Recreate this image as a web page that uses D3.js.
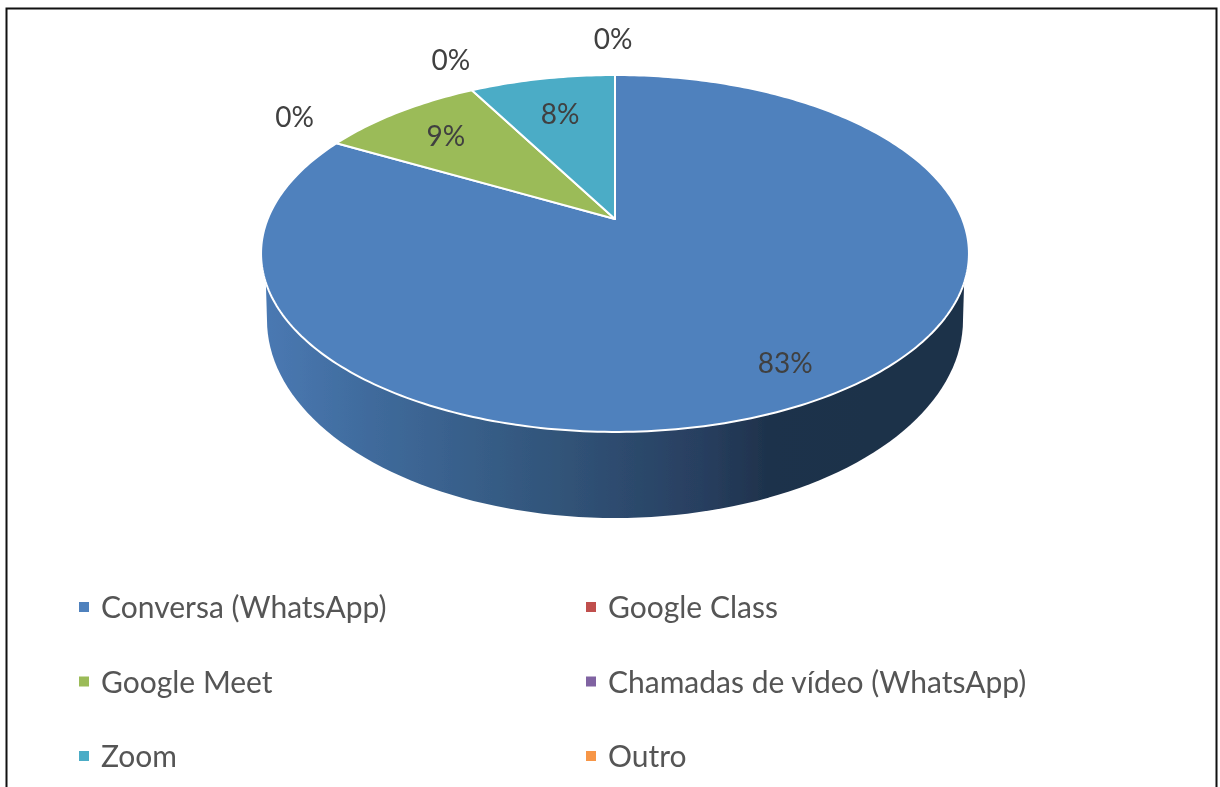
<!DOCTYPE html>
<html>
<head>
<meta charset="utf-8">
<script src="https://cdn.jsdelivr.net/npm/d3@7"></script>
<style>
  html, body { margin: 0; padding: 0; background: #fff; }
  svg { display: block; }
  text { font-family: Lato, "Open Sans", sans-serif; }
</style>
</head>
<body>
<div id="chart"></div>
<script>
// values
const categories = ['Conversa (WhatsApp)', 'Google Class', 'Google Meet', 'Chamadas de vídeo (WhatsApp)', 'Zoom', 'Outro'];
const shares = [83, 0, 9, 0, 8, 0];
const colors = ['#4f81bd', '#c0504d', '#9bbb59', '#8064a2', '#4bacc6', '#f79646'];

const width = 1220, height = 787;

// perspective of the pie: apex sits above the middle of the rim ellipse
const apex = {x: 615, y: 219};
const persp = {a: 347.3, b: 171.8, k: 0.193};
const floor = {x: 615, y: 320, rx: 348, ry: 198};
const wallTop = 283;

// where the labels go for each slice: radius on the disc, then nudge in px
const labelPlace = [[0.83, 0, 1], [1, -42, -27], [0.76, 0, 0], [1, -21, -31], [0.72, 0, 0], [1, -2, -37]];

const svg = d3.select('#chart').append('svg')
    .attr('width', width)
    .attr('height', height);

const defs = svg.append('defs');

// the reference is a soft scan, take the edge off everything but the frame
defs.append('filter')
    .attr('id', 'soft')
    .attr('filterUnits', 'userSpaceOnUse')
    .attr('x', 0).attr('y', 0).attr('width', width).attr('height', height)
    .append('feGaussianBlur')
    .attr('stdDeviation', 0.7);

const content = svg.append('g').attr('filter', 'url(#soft)');

// map a point of the flat disc (angle from 12 o'clock, radius 0-1) to the screen
function project(angle, r) {
    const u = r * Math.sin(angle), v = -r * Math.cos(angle);
    const d = 1 - persp.k * v;
    return [apex.x + persp.a * u / d, apex.y + persp.b * v / d];
}

const line = d3.line();
const pie = d3.pie().value(d => d).sort(null);
const arcs = pie(shares);
const color = d3.scaleOrdinal().domain(categories).range(colors);

function slicePath(d) {
    const n = Math.max(2, Math.ceil((d.endAngle - d.startAngle) * 60));
    const pts = d3.range(n + 1).map(i => project(d.startAngle + (d.endAngle - d.startAngle) * i / n, 1));
    return line([[apex.x, apex.y], ...pts]) + 'Z';
}

// gradient along the side wall
const grad = defs.append('linearGradient')
    .attr('id', 'wall')
    .attr('gradientUnits', 'userSpaceOnUse')
    .attr('x1', 262).attr('x2', 968).attr('y1', 0).attr('y2', 0);
[[0, '#4a79b3'], [0.16, '#3f6a9b'], [0.42, '#315479'], [0.62, '#283f60'], [0.72, '#1e324b'], [1, '#1d3049']]
    .forEach(s => grad.append('stop').attr('offset', s[0]).attr('stop-color', s[1]));

// side wall, the top disc covers the upper part of it
const rimHalf = 354 * Math.sqrt(1 - Math.pow((wallTop - 253.5) / 178.5, 2));
const floorPts = d3.range(0, 181, 2).map(a => {
    const t = Math.PI - a * Math.PI / 180;
    return [floor.x + floor.rx * Math.cos(t), floor.y + floor.ry * Math.sin(t)];
});
content.append('path')
    .attr('d', line([[floor.x - rimHalf, wallTop], ...floorPts, [floor.x + rimHalf, wallTop]]) + 'Z')
    .attr('fill', 'url(#wall)');

// top of the pie
content.append('g').selectAll('path')
    .data(arcs.filter(d => d.value > 0))
    .join('path')
    .attr('d', slicePath)
    .attr('fill', d => color(categories[d.index]))
    .attr('stroke', '#fff')
    .attr('stroke-width', 2)
    .attr('stroke-linejoin', 'round');

// percent labels
content.append('g').selectAll('text')
    .data(arcs)
    .join('text')
    .attr('x', d => project((d.startAngle + d.endAngle) / 2, labelPlace[d.index][0])[0] + labelPlace[d.index][1])
    .attr('y', d => project((d.startAngle + d.endAngle) / 2, labelPlace[d.index][0])[1] + labelPlace[d.index][2])
    .attr('text-anchor', 'middle')
    .attr('dominant-baseline', 'central')
    .style('font-size', '28px')
    .style('fill', '#404040')
    .text(d => d.value + '%');

// legend, two columns
const legendX = d3.scalePoint().domain([0, 1]).range([79, 586]);
const legendY = d3.scalePoint().domain([0, 1, 2]).range([607, 756]);
const legend = content.append('g').selectAll('g')
    .data(categories)
    .join('g')
    .attr('transform', (d, i) => `translate(${legendX(i % 2)},${legendY(Math.floor(i / 2))})`);
legend.append('rect')
    .attr('y', -5)
    .attr('width', 10)
    .attr('height', 10)
    .attr('fill', d => color(d));
legend.append('text')
    .attr('x', 22)
    .attr('y', -1)
    .attr('dominant-baseline', 'central')
    .style('font-size', '30px')
    .style('fill', '#555')
    .text(d => d);

// frame, runs off the bottom of the crop
svg.append('path')
    .attr('d', `M6.5,${height}V8.5H1216.5V${height}`)
    .attr('fill', 'none')
    .attr('stroke', '#111')
    .attr('stroke-width', 2);
</script>
</body>
</html>
